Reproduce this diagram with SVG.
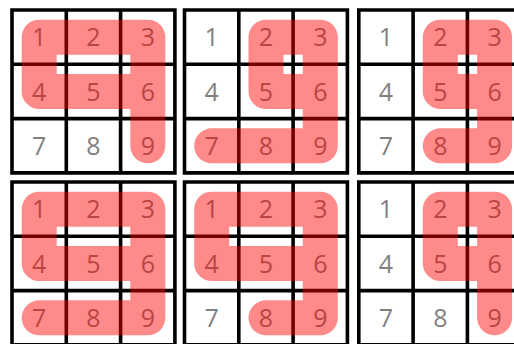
<svg xmlns="http://www.w3.org/2000/svg" width="514" height="344" viewBox="0 0 514 344">
<defs>
<style>
.grid{fill:none;stroke:#000;stroke-width:3.6}
.d{font-family:"Open Sans","Noto Sans","DejaVu Sans",sans-serif;font-weight:400;font-size:25px;fill:#808080;text-anchor:middle}
.hl{fill:none;stroke:#ff0000;stroke-opacity:0.46;stroke-width:35;stroke-linecap:round;stroke-linejoin:round}
</style>
</defs>
<rect width="514" height="344" fill="#fff"/>

<g id="grid1" transform="translate(12,10)">
<path class="grid" d="M0,0H162.9V162.9H0Z M54.3,0V162.9 M108.6,0V162.9 M0,54.3H162.9 M0,108.6H162.9"/>
<text class="d" x="27.2" y="36.2">1</text><text class="d" x="81.5" y="36.2">2</text><text class="d" x="135.8" y="36.2">3</text>
<text class="d" x="27.2" y="90.5">4</text><text class="d" x="81.5" y="90.5">5</text><text class="d" x="135.8" y="90.5">6</text>
<text class="d" x="27.2" y="144.8">7</text><text class="d" x="81.5" y="144.8">8</text><text class="d" x="135.8" y="144.8">9</text>
<path class="hl" d="M27.2,81.5L27.2,27.2L135.8,27.2L135.8,135.8M27.2,81.5L135.8,81.5"/>
</g>

<g id="grid2" transform="translate(184.5,10)">
<path class="grid" d="M0,0H162.9V162.9H0Z M54.3,0V162.9 M108.6,0V162.9 M0,54.3H162.9 M0,108.6H162.9"/>
<text class="d" x="27.2" y="36.2">1</text><text class="d" x="81.5" y="36.2">2</text><text class="d" x="135.8" y="36.2">3</text>
<text class="d" x="27.2" y="90.5">4</text><text class="d" x="81.5" y="90.5">5</text><text class="d" x="135.8" y="90.5">6</text>
<text class="d" x="27.2" y="144.8">7</text><text class="d" x="81.5" y="144.8">8</text><text class="d" x="135.8" y="144.8">9</text>
<path class="hl" d="M81.5,81.5L81.5,27.2L135.8,27.2L135.8,135.8L27.2,135.8M81.5,81.5L135.8,81.5"/>
</g>

<g id="grid3" transform="translate(358.8,10)">
<path class="grid" d="M0,0H162.9V162.9H0Z M54.3,0V162.9 M108.6,0V162.9 M0,54.3H162.9 M0,108.6H162.9"/>
<text class="d" x="27.2" y="36.2">1</text><text class="d" x="81.5" y="36.2">2</text><text class="d" x="135.8" y="36.2">3</text>
<text class="d" x="27.2" y="90.5">4</text><text class="d" x="81.5" y="90.5">5</text><text class="d" x="135.8" y="90.5">6</text>
<text class="d" x="27.2" y="144.8">7</text><text class="d" x="81.5" y="144.8">8</text><text class="d" x="135.8" y="144.8">9</text>
<path class="hl" d="M81.5,81.5L81.5,27.2L135.8,27.2L135.8,135.8L81.5,135.8M81.5,81.5L135.8,81.5"/>
</g>

<g id="grid4" transform="translate(12,182)">
<path class="grid" d="M0,0H162.9V162.9H0Z M54.3,0V162.9 M108.6,0V162.9 M0,54.3H162.9 M0,108.6H162.9"/>
<text class="d" x="27.2" y="36.2">1</text><text class="d" x="81.5" y="36.2">2</text><text class="d" x="135.8" y="36.2">3</text>
<text class="d" x="27.2" y="90.5">4</text><text class="d" x="81.5" y="90.5">5</text><text class="d" x="135.8" y="90.5">6</text>
<text class="d" x="27.2" y="144.8">7</text><text class="d" x="81.5" y="144.8">8</text><text class="d" x="135.8" y="144.8">9</text>
<path class="hl" d="M27.2,81.5L27.2,27.2L135.8,27.2L135.8,135.8L27.2,135.8M27.2,81.5L135.8,81.5"/>
</g>

<g id="grid5" transform="translate(184.5,182)">
<path class="grid" d="M0,0H162.9V162.9H0Z M54.3,0V162.9 M108.6,0V162.9 M0,54.3H162.9 M0,108.6H162.9"/>
<text class="d" x="27.2" y="36.2">1</text><text class="d" x="81.5" y="36.2">2</text><text class="d" x="135.8" y="36.2">3</text>
<text class="d" x="27.2" y="90.5">4</text><text class="d" x="81.5" y="90.5">5</text><text class="d" x="135.8" y="90.5">6</text>
<text class="d" x="27.2" y="144.8">7</text><text class="d" x="81.5" y="144.8">8</text><text class="d" x="135.8" y="144.8">9</text>
<path class="hl" d="M27.2,81.5L27.2,27.2L135.8,27.2L135.8,135.8L81.5,135.8M27.2,81.5L135.8,81.5"/>
</g>

<g id="grid6" transform="translate(358.8,182)">
<path class="grid" d="M0,0H162.9V162.9H0Z M54.3,0V162.9 M108.6,0V162.9 M0,54.3H162.9 M0,108.6H162.9"/>
<text class="d" x="27.2" y="36.2">1</text><text class="d" x="81.5" y="36.2">2</text><text class="d" x="135.8" y="36.2">3</text>
<text class="d" x="27.2" y="90.5">4</text><text class="d" x="81.5" y="90.5">5</text><text class="d" x="135.8" y="90.5">6</text>
<text class="d" x="27.2" y="144.8">7</text><text class="d" x="81.5" y="144.8">8</text><text class="d" x="135.8" y="144.8">9</text>
<path class="hl" d="M81.5,81.5L81.5,27.2L135.8,27.2L135.8,135.8M81.5,81.5L135.8,81.5"/>
</g>
</svg>
